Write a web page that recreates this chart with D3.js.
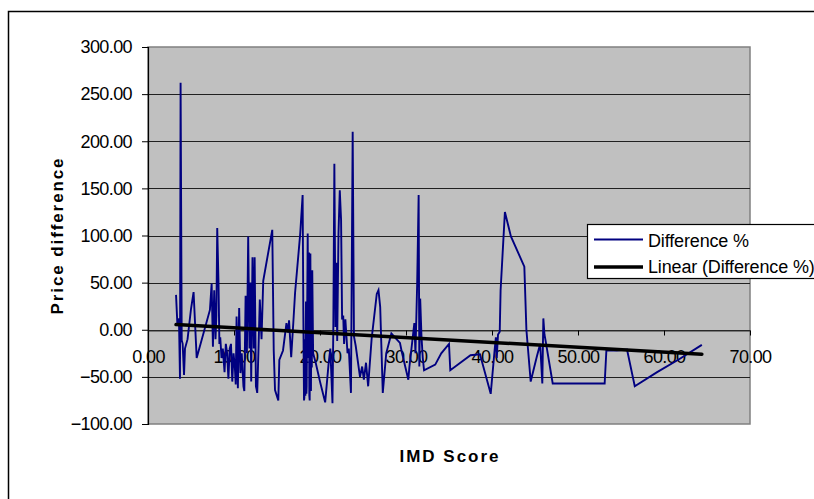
<!DOCTYPE html>
<html>
<head>
<meta charset="utf-8">
<script src="https://cdn.jsdelivr.net/npm/d3@7"></script>
<style>
  html, body { margin: 0; padding: 0; background: #fff; }
  svg { display: block; }
  text { font-family: Arial, "Liberation Sans", sans-serif; fill: #000; }
</style>
</head>
<body>
<svg id="chart" width="814" height="499"></svg>
<script>
// IMD score of each area (x) and the price difference in % (y), sorted by score
const imdScore = [
  3.26, 3.41, 3.6, 3.72, 3.79, 3.92, 4.03, 4.19, 4.3, 4.6,
  5.0, 5.3, 5.66, 7.2, 7.4, 7.55, 7.7, 7.85, 7.95, 8.05,
  8.2, 8.3, 8.4, 8.55, 8.7, 8.9, 9.05, 9.2, 9.35, 9.5,
  9.65, 9.8, 9.95, 10.1, 10.2, 10.3, 10.45, 10.6, 10.75, 10.9,
  11.05, 11.1, 11.2, 11.35, 11.5, 11.65, 11.8, 11.9, 12.0, 12.15,
  12.3, 12.4, 12.55, 12.62, 12.7, 12.85, 13.0, 13.2, 13.4, 14.45,
  14.62, 14.77, 15.15, 15.27, 15.7, 16.1, 16.3, 16.4, 16.65, 16.9,
  17.1, 17.7, 17.98, 18.06, 18.14, 18.18, 18.22, 18.3, 18.37, 18.42,
  18.45, 18.57, 18.65, 18.72, 18.76, 18.8, 18.88, 18.95, 19.0, 19.05,
  19.1, 19.2, 19.5, 20.0, 20.6, 21.0, 21.2, 21.45, 21.55, 21.67,
  21.8, 21.9, 22.0, 22.15, 22.3, 22.45, 22.57, 22.7, 22.8, 22.95,
  23.2, 23.35, 23.6, 23.8, 23.95, 24.15, 24.65, 24.9, 25.1, 25.35,
  25.6, 26.0, 26.6, 26.8, 27.0, 27.3, 27.7, 28.3, 29.3, 29.5,
  30.27, 30.4, 30.97, 31.1, 31.3, 31.47, 31.55, 31.65, 31.8, 31.95,
  32.1, 33.4, 34.1, 35.0, 35.15, 37.5, 38.6, 39.85, 40.3, 40.45,
  40.55, 40.7, 40.9, 41.0, 41.5, 42.2, 43.76, 44.0, 44.5, 45.2,
  45.6, 45.85, 45.97, 46.1, 46.2, 47.06, 48.0, 49.5, 51.0, 52.3,
  53.1, 53.3, 54.5, 55.7, 56.6, 59.2, 61.8, 64.4
];
const priceDiff = [
  37, 7, 12, -52, 262, -11, -15, -48, -20, -10,
  22, 40, -30, 21, 49, -18, 42, -10, 15, 108,
  49, -15, -8, -30, -20, -45, -15, -25, -52, -20,
  -15, -55, -25, -40, -58, 14, -62, 23, -46, -25,
  -52, -60, -65, 36, -25, 99, -20, 50, -55, 77,
  -20, 77, -60, -63, -67, -20, 32, -10, 52, 106,
  -22, -64, -75, -32, -22, 7, -3, 10, -29, 8,
  39, 102, 143, 20, -75, -72, -10, -70, 30, -68,
  -60, 102, -30, 82, -70, -75, 81, -65, 40, -40,
  63, -25, -35, -55, -77, -36, -20, -78, 3, 176,
  3, 71, -12, 102, 148, 117, 11, 15, -15, 11,
  -25, -20, -67, 210, -7, -17, -50, -39, -53, -35,
  -60, -10, 38, 42, 24, -67, -25, -4, -14, -23,
  -53, -39, 7, -25, 49, 143, -39, 33, -7, -30,
  -43, -37, -25, -15, -43, -27, -26, -68, -22, -8,
  -30, -5, -2, 42, 125, 99, 67, 0, -55, -29,
  -15, -57, 12, -5, -10, -57, -57, -57, -57, -57,
  -57, -22, -22, -21, -60, -45, -31, -16
];
const xTicks = [0, 10, 20, 30, 40, 50, 60, 70];
const yTicks = [-100, -50, 0, 50, 100, 150, 200, 250, 300];
const seriesName = "Difference %";
const trendName = "Linear (Difference %)";
const xTitle = "IMD Score";
const yTitle = "Price difference";

const svg = d3.select("#chart");
const plot = { left: 148, top: 47, right: 750, bottom: 424 };

const x = d3.scaleLinear().domain([0, 70]).range([plot.left, plot.right]);
const y = d3.scaleLinear().domain([-100, 300]).range([plot.bottom, plot.top]);
const fmt = d3.format(".2f");

// chart area frame
svg.append("rect")
  .attr("x", 8.5).attr("y", 11.5)
  .attr("width", 840).attr("height", 520)
  .attr("fill", "#fff").attr("stroke", "#000").attr("stroke-width", 1.5);

// plot area
svg.append("rect")
  .attr("x", plot.left).attr("y", plot.top)
  .attr("width", plot.right - plot.left).attr("height", plot.bottom - plot.top)
  .attr("fill", "#c0c0c0").attr("stroke", "#808080").attr("stroke-width", 1.5);

// horizontal gridlines
svg.append("g")
  .selectAll("line")
  .data(yTicks.filter(d => d > -100 && d < 300))
  .join("line")
  .attr("x1", plot.left).attr("x2", plot.right)
  .attr("y1", d => Math.round(y(d)) + 0.5).attr("y2", d => Math.round(y(d)) + 0.5)
  .attr("stroke", "#202020").attr("stroke-width", 1);

// y axis
const yAxis = d3.axisLeft(y).tickValues(yTicks).tickFormat(fmt).tickSize(6).tickPadding(10);
const gy = svg.append("g").attr("transform", `translate(${plot.left},0)`).call(yAxis);
gy.select(".domain").attr("stroke", "#000").attr("stroke-width", 1.2);
gy.selectAll(".tick line").attr("stroke", "#000");
gy.selectAll(".tick text")
  .attr("font-size", 18).attr("font-family", "Arial, 'Liberation Sans', sans-serif")
  .attr("letter-spacing", -0.6).attr("fill", "#000");

// x axis crossing at y = 0, labels next to the axis
const xAxis = d3.axisBottom(x).tickValues(xTicks).tickFormat(fmt).tickSize(5).tickPadding(15).tickSizeOuter(0);
const gx = svg.append("g").attr("transform", `translate(0,${Math.round(y(0)) + 0.5})`).call(xAxis);
gx.select(".domain").attr("stroke", "#303030").attr("stroke-width", 1.2);
gx.selectAll(".tick line").attr("stroke", "#000");
gx.selectAll(".tick text")
  .attr("font-size", 18).attr("font-family", "Arial, 'Liberation Sans', sans-serif")
  .attr("letter-spacing", -0.6).attr("fill", "#000");

// data series
const points = imdScore.map((v, i) => [v, priceDiff[i]]);
const line = d3.line().x(d => x(d[0])).y(d => y(d[1]));
svg.append("path")
  .datum(points)
  .attr("d", line)
  .attr("fill", "none")
  .attr("stroke", "#000080")
  .attr("stroke-width", 1.9)
  .attr("stroke-linejoin", "miter");

// least-squares linear trend of the series
const mx = d3.mean(imdScore), my = d3.mean(priceDiff);
let sxy = 0, sxx = 0;
points.forEach(([a, b]) => { sxy += (a - mx) * (b - my); sxx += (a - mx) * (a - mx); });
const slope = sxy / sxx, intercept = my - slope * mx;
const [x0, x1] = d3.extent(imdScore);
svg.append("path")
  .datum([[x0, intercept + slope * x0], [x1, intercept + slope * x1]])
  .attr("d", line)
  .attr("fill", "none")
  .attr("stroke", "#000")
  .attr("stroke-width", 3.5)
  .attr("stroke-linecap", "round");

// axis titles
svg.append("text")
  .attr("x", (plot.left + plot.right) / 2 + 1).attr("y", 462)
  .attr("text-anchor", "middle")
  .attr("font-size", 17).attr("font-weight", "bold").attr("letter-spacing", 2)
  .text(xTitle);

svg.append("text")
  .attr("transform", `translate(63,${(plot.top + plot.bottom) / 2}) rotate(-90)`)
  .attr("text-anchor", "middle")
  .attr("font-size", 17).attr("font-weight", "bold").attr("letter-spacing", 1.9)
  .text(yTitle);

// legend
const lg = svg.append("g").attr("transform", "translate(587,224)");
lg.append("rect")
  .attr("x", 0.5).attr("y", 0.5).attr("width", 260).attr("height", 54)
  .attr("fill", "#fff").attr("stroke", "#000").attr("stroke-width", 1.2);
lg.append("line").attr("x1", 7).attr("x2", 56).attr("y1", 15.5).attr("y2", 15.5)
  .attr("stroke", "#000080").attr("stroke-width", 1.9);
lg.append("line").attr("x1", 7).attr("x2", 56).attr("y1", 43).attr("y2", 43)
  .attr("stroke", "#000").attr("stroke-width", 3.5);
lg.append("text").attr("x", 61).attr("y", 22.5)
  .attr("font-size", 18).attr("letter-spacing", -0.15).text(seriesName);
lg.append("text").attr("x", 61).attr("y", 49)
  .attr("font-size", 18).attr("letter-spacing", -0.15).text(trendName);
</script>
</body>
</html>
